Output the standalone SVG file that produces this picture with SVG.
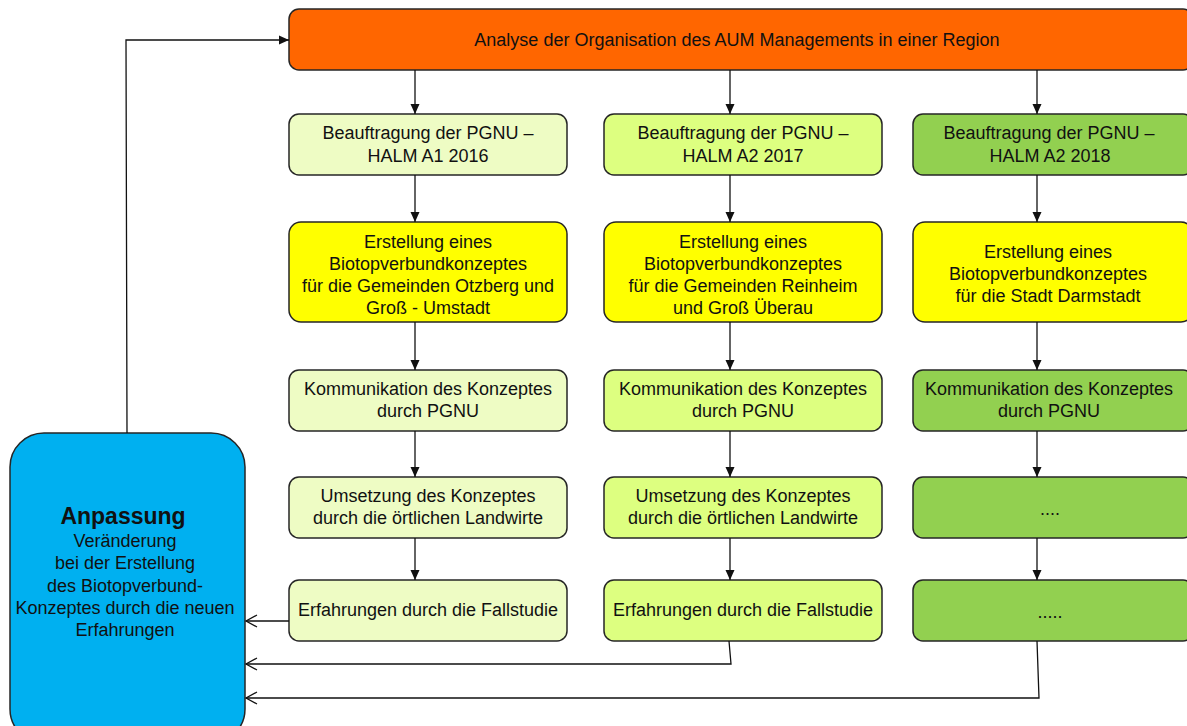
<svg xmlns="http://www.w3.org/2000/svg" width="1187" height="726" viewBox="0 0 1187 726">
  <style>
    .box { stroke: #262626; stroke-width: 1.5; }
    .t { font-family: "Liberation Sans", Arial, sans-serif; font-size: 18px; fill: #111; text-anchor: middle; }
    .tb { font-family: "Liberation Sans", Arial, sans-serif; font-size: 23px; font-weight: bold; fill: #111; text-anchor: middle; }
    .c1 { fill: #EEFCC4; }
    .c2 { fill: #DDFF80; }
    .c3 { fill: #92D050; }
    .yel { fill: #FFFF00; }
    .ln { fill: none; stroke: #111; stroke-width: 1.3; }
  </style>
  <defs>
    <marker id="arrow" markerUnits="userSpaceOnUse" markerWidth="11" markerHeight="10" refX="10" refY="5" orient="auto">
      <path d="M0,0.5 L10,5 L0,9.5 z" fill="#111"/>
    </marker>
    <marker id="open" markerUnits="userSpaceOnUse" markerWidth="14" markerHeight="14" refX="12" refY="7" orient="auto">
      <path d="M1,1 L12,7 L1,13" fill="none" stroke="#111" stroke-width="1.3"/>
    </marker>
  </defs>

  <rect width="1187" height="726" fill="#fff"/>

  <!-- top analysis box -->
  <g id="analyse">
    <rect class="box" x="289" y="9" width="904" height="61" rx="10" fill="#FF6600"/>
    <text class="t" x="737" y="46">Analyse der Organisation des AUM Managements in einer Region</text>
  </g>

  <!-- column 1 -->
  <g id="auftrag1">
    <rect class="box c1" x="289" y="114" width="278" height="61" rx="10"/>
    <text class="t" x="428" y="139">Beauftragung der PGNU –</text>
    <text class="t" x="428" y="162">HALM A1 2016</text>
  </g>
  <g id="konzept1">
    <rect class="box yel" x="289" y="222" width="278" height="100" rx="12"/>
    <text class="t" x="428" y="248">Erstellung eines</text>
    <text class="t" x="428" y="270">Biotopverbundkonzeptes</text>
    <text class="t" x="428" y="292">für die Gemeinden Otzberg und</text>
    <text class="t" x="428" y="314">Groß - Umstadt</text>
  </g>
  <g id="kommunikation1">
    <rect class="box c1" x="289" y="370" width="278" height="61" rx="10"/>
    <text class="t" x="428" y="395">Kommunikation des Konzeptes</text>
    <text class="t" x="428" y="417">durch PGNU</text>
  </g>
  <g id="umsetzung1">
    <rect class="box c1" x="289" y="477" width="278" height="61" rx="10"/>
    <text class="t" x="428" y="502">Umsetzung des Konzeptes</text>
    <text class="t" x="428" y="524">durch die örtlichen Landwirte</text>
  </g>
  <g id="erfahrung1">
    <rect class="box c1" x="289" y="580" width="278" height="61" rx="10"/>
    <text class="t" x="428" y="616">Erfahrungen durch die Fallstudie</text>
  </g>

  <!-- column 2 -->
  <g id="auftrag2">
    <rect class="box c2" x="604" y="114" width="278" height="61" rx="10"/>
    <text class="t" x="743" y="139">Beauftragung der PGNU –</text>
    <text class="t" x="743" y="162">HALM A2 2017</text>
  </g>
  <g id="konzept2">
    <rect class="box yel" x="604" y="222" width="278" height="100" rx="12"/>
    <text class="t" x="743" y="248">Erstellung eines</text>
    <text class="t" x="743" y="270">Biotopverbundkonzeptes</text>
    <text class="t" x="743" y="292">für die Gemeinden Reinheim</text>
    <text class="t" x="743" y="314">und Groß Überau</text>
  </g>
  <g id="kommunikation2">
    <rect class="box c2" x="604" y="370" width="278" height="61" rx="10"/>
    <text class="t" x="743" y="395">Kommunikation des Konzeptes</text>
    <text class="t" x="743" y="417">durch PGNU</text>
  </g>
  <g id="umsetzung2">
    <rect class="box c2" x="604" y="477" width="278" height="61" rx="10"/>
    <text class="t" x="743" y="502">Umsetzung des Konzeptes</text>
    <text class="t" x="743" y="524">durch die örtlichen Landwirte</text>
  </g>
  <g id="erfahrung2">
    <rect class="box c2" x="604" y="580" width="278" height="61" rx="10"/>
    <text class="t" x="743" y="616">Erfahrungen durch die Fallstudie</text>
  </g>

  <!-- column 3 -->
  <g id="auftrag3">
    <rect class="box c3" x="913" y="114" width="280" height="61" rx="10"/>
    <text class="t" x="1049" y="139">Beauftragung der PGNU –</text>
    <text class="t" x="1050" y="162">HALM A2 2018</text>
  </g>
  <g id="konzept3">
    <rect class="box yel" x="913" y="222" width="280" height="100" rx="12"/>
    <text class="t" x="1048" y="258">Erstellung eines</text>
    <text class="t" x="1048" y="280">Biotopverbundkonzeptes</text>
    <text class="t" x="1048" y="302">für die Stadt Darmstadt</text>
  </g>
  <g id="kommunikation3">
    <rect class="box c3" x="913" y="370" width="280" height="61" rx="10"/>
    <text class="t" x="1049" y="395">Kommunikation des Konzeptes</text>
    <text class="t" x="1049" y="417">durch PGNU</text>
  </g>
  <g id="schritt4">
    <rect class="box c3" x="913" y="477" width="280" height="61" rx="10"/>
    <text class="t" x="1050" y="515">....</text>
  </g>
  <g id="schritt5">
    <rect class="box c3" x="913" y="580" width="280" height="61" rx="10"/>
    <text class="t" x="1050" y="618">.....</text>
  </g>

  <!-- adaptation box -->
  <g id="anpassung">
    <rect class="box" x="10" y="433" width="235" height="310" rx="34" fill="#00B0F0"/>
    <text class="tb" x="123" y="524">Anpassung</text>
    <text class="t" x="125" y="547">Veränderung</text>
    <text class="t" x="125" y="569">bei der Erstellung</text>
    <text class="t" x="125" y="592">des Biotopverbund-</text>
    <text class="t" x="125" y="614">Konzeptes durch die neuen</text>
    <text class="t" x="125" y="636">Erfahrungen</text>
  </g>

  <!-- connectors -->
  <g id="connectors">
    <line class="ln" x1="415" y1="70" x2="415" y2="114" marker-end="url(#arrow)"/>
    <line class="ln" x1="730" y1="70" x2="730" y2="114" marker-end="url(#arrow)"/>
    <line class="ln" x1="1037" y1="70" x2="1037" y2="114" marker-end="url(#arrow)"/>

    <line class="ln" x1="415" y1="175" x2="415" y2="222" marker-end="url(#arrow)"/>
    <line class="ln" x1="730" y1="175" x2="730" y2="222" marker-end="url(#arrow)"/>
    <line class="ln" x1="1037" y1="175" x2="1037" y2="222" marker-end="url(#arrow)"/>

    <line class="ln" x1="415" y1="322" x2="415" y2="370" marker-end="url(#arrow)"/>
    <line class="ln" x1="730" y1="322" x2="730" y2="370" marker-end="url(#arrow)"/>
    <line class="ln" x1="1037" y1="322" x2="1037" y2="370" marker-end="url(#arrow)"/>

    <line class="ln" x1="415" y1="431" x2="415" y2="477" marker-end="url(#arrow)"/>
    <line class="ln" x1="730" y1="431" x2="730" y2="477" marker-end="url(#arrow)"/>
    <line class="ln" x1="1037" y1="431" x2="1037" y2="477" marker-end="url(#arrow)"/>

    <line class="ln" x1="415" y1="538" x2="415" y2="580" marker-end="url(#arrow)"/>
    <line class="ln" x1="730" y1="538" x2="730" y2="580" marker-end="url(#arrow)"/>
    <line class="ln" x1="1037" y1="538" x2="1037" y2="580" marker-end="url(#arrow)"/>

    <!-- feedback into the adaptation box -->
    <line class="ln" x1="289" y1="621" x2="246" y2="621" marker-end="url(#open)"/>
    <polyline class="ln" points="729,641 731,664 246,664" marker-end="url(#open)"/>
    <polyline class="ln" points="1037,641 1039,698 246,698" marker-end="url(#open)"/>

    <!-- loop back to the analysis -->
    <polyline class="ln" points="127,433 126,40 289,40" marker-end="url(#arrow)"/>
  </g>
</svg>
